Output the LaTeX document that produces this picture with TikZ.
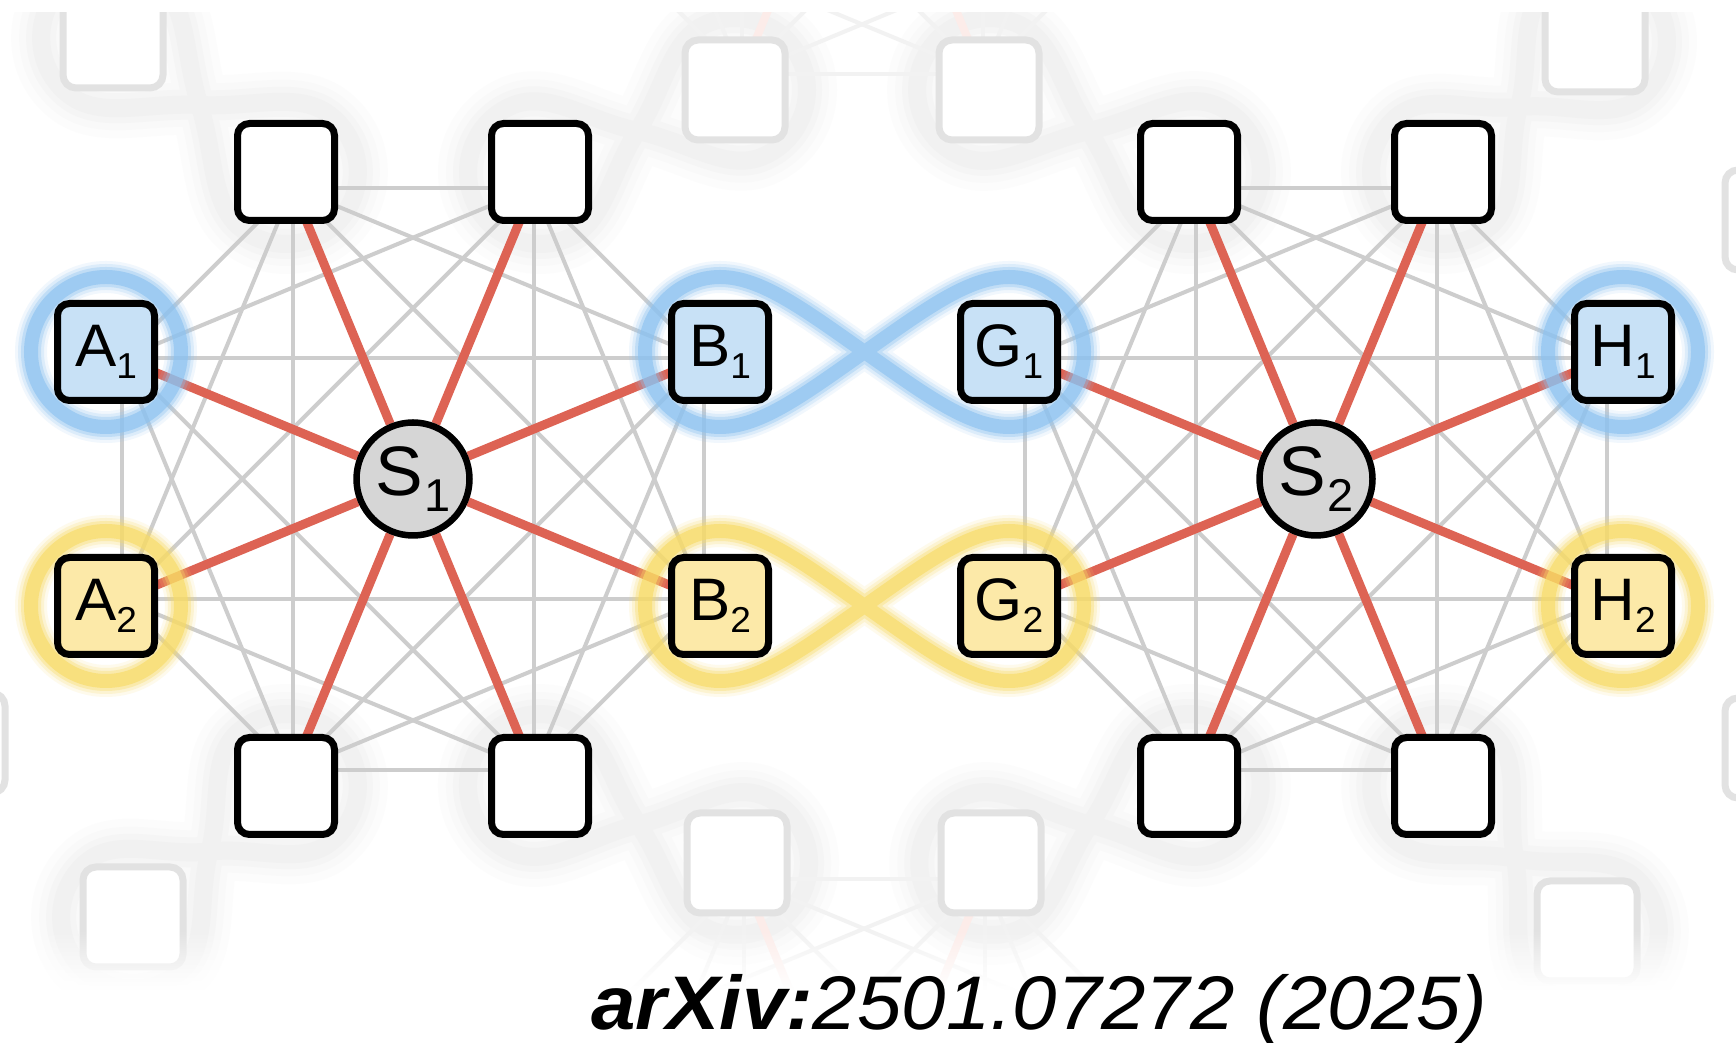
\documentclass[tikz,border=0pt]{standalone}
\usepackage{fontspec}
\setmainfont{Liberation Sans}
\usetikzlibrary{calc,fadings}

\definecolor{ringblue}{RGB}{140,194,240}
\definecolor{ringyellow}{RGB}{248,219,102}
\definecolor{fillblue}{RGB}{200,225,246}
\definecolor{fillyellow}{RGB}{252,233,168}
\definecolor{hubgray}{RGB}{214,214,214}
\definecolor{spokered}{RGB}{221,99,84}
\definecolor{linkgray}{RGB}{205,205,205}
\definecolor{ghostlink}{RGB}{242,242,242}
\definecolor{ghostspoke}{RGB}{252,236,233}
\definecolor{ghostframe}{RGB}{226,226,226}
\definecolor{hazegray}{RGB}{190,190,190}

\pgfdeclarelayer{ghosts}
\pgfdeclarelayer{links}
\pgfdeclarelayer{rings}
\pgfsetlayers{ghosts,links,rings,main}

\tikzfading[name=fadeup, top color=transparent!100, bottom color=transparent!0]

% site and hub labels: letter with a lowered index
\newcommand{\sitelabel}[2]{\scalebox{1.03}[1]{\fontsize{60}{60}\selectfont #1\raisebox{-12pt}{\fontsize{36}{36}\selectfont #2}}}
\newcommand{\hublabel}[1]{\scalebox{1.02}[1]{\fontsize{70}{70}\selectfont S\kern2pt\raisebox{-16pt}{\fontsize{46}{46}\selectfont #1}}}

% figure-eight loop round (-d,0) and (d,0), crossing at the origin; #1 = d, #2 = lobe radius
\newcommand{\eightloop}[2]{%
 (0,0) .. controls +(145:{0.5*#1}) and +(0:{0.55*#2}) .. (-#1,#2)
 .. controls +(180:{0.55*#2}) and +(90:{0.55*#2}) .. ({-#1-#2},0)
 .. controls +(-90:{0.55*#2}) and +(180:{0.55*#2}) .. (-#1,-#2)
 .. controls +(0:{0.55*#2}) and +(-145:{0.5*#1}) .. (0,0)
 .. controls +(35:{0.5*#1}) and +(180:{0.55*#2}) .. (#1,#2)
 .. controls +(0:{0.55*#2}) and +(90:{0.55*#2}) .. ({#1+#2},0)
 .. controls +(-90:{0.55*#2}) and +(0:{0.55*#2}) .. (#1,-#2)
 .. controls +(180:{0.55*#2}) and +(-35:{0.5*#1}) .. (0,0) -- cycle}

\tikzset{
  site/.style={rectangle, draw=black, line width=7pt, rounded corners=12pt,
    minimum width=97pt, minimum height=97pt, inner sep=0pt, fill=white},
  siteA/.style={site, fill=fillblue},
  siteB/.style={site, fill=fillyellow},
  hub/.style={circle, draw=black, line width=6.5pt, fill=hubgray,
    minimum size=113pt, inner sep=0pt},
  ghostsite/.style={rectangle, draw=ghostframe, line width=7pt, rounded corners=13pt,
    minimum width=100pt, minimum height=100pt, inner sep=0pt, fill=white},
  link/.style={draw=linkgray, line width=4pt},
  spoke/.style={draw=spokered, line width=9pt},
  ghostedge/.style={draw=ghostlink, line width=4pt},
  ghostray/.style={draw=ghostspoke, line width=8pt},
  softglow/.style={
    preaction={draw=#1, line width=32pt, draw opacity=.12},
    preaction={draw=#1, line width=26pt, draw opacity=.2},
    preaction={draw=#1, line width=20pt, draw opacity=.35},
    draw=#1, line width=14pt, draw opacity=.65},
  haze/.style={
    preaction={draw=hazegray, line width=60pt, draw opacity=.035},
    preaction={draw=hazegray, line width=44pt, draw opacity=.045},
    preaction={draw=hazegray, line width=30pt, draw opacity=.055},
    draw=hazegray, line width=18pt, draw opacity=.06},
}

\begin{document}
\begin{tikzpicture}[x=1pt,y=1pt]
\useasboundingbox (0,0) rectangle (1736,1043);

% ---------------- left cluster ----------------
\node[hub] (s1) at (413,564) {\hublabel{1}};
\node[siteA] (a1) at (106,691) {\sitelabel{A}{1}};
\node[siteB] (a2) at (106,437) {\sitelabel{A}{2}};
\node[siteA] (b1) at (720,691) {\sitelabel{B}{1}};
\node[siteB] (b2) at (720,437) {\sitelabel{B}{2}};
\node[site] (lt1) at (286,871) {};
\node[site] (lt2) at (540,871) {};
\node[site] (lb1) at (286,257) {};
\node[site] (lb2) at (540,257) {};

% ---------------- right cluster ----------------
\node[hub] (s2) at (1316,564) {\hublabel{2}};
\node[siteA] (g1) at (1009,691) {\sitelabel{G}{1}};
\node[siteB] (g2) at (1009,437) {\sitelabel{G}{2}};
\node[siteA] (h1) at (1623,691) {\sitelabel{H}{1}};
\node[siteB] (h2) at (1623,437) {\sitelabel{H}{2}};
\node[site] (rt1) at (1189,871) {};
\node[site] (rt2) at (1443,871) {};
\node[site] (rb1) at (1189,257) {};
\node[site] (rb2) at (1443,257) {};

% attachment points, pulled a little towards the hub
\foreach \u in {a1,a2,b1,b2,lt1,lt2,lb1,lb2}
  \coordinate (\u-p) at ($(\u)!17pt!(s1)$);
\foreach \u in {g1,g2,h1,h2,rt1,rt2,rb1,rb2}
  \coordinate (\u-p) at ($(\u)!17pt!(s2)$);

% ---------------- all-to-all links and hub spokes ----------------
\begin{pgfonlayer}{links}
  \foreach \u [count=\i] in {a1,lt1,lt2,b1,b2,lb2,lb1,a2}
    \foreach \v [count=\j] in {a1,lt1,lt2,b1,b2,lb2,lb1,a2}
      {\ifnum\i<\j \draw[link] (\u-p) -- (\v-p);\fi}
  \foreach \u [count=\i] in {g1,rt1,rt2,h1,h2,rb2,rb1,g2}
    \foreach \v [count=\j] in {g1,rt1,rt2,h1,h2,rb2,rb1,g2}
      {\ifnum\i<\j \draw[link] (\u-p) -- (\v-p);\fi}
  \foreach \u in {a1,a2,b1,b2,lt1,lt2,lb1,lb2}
    \draw[spoke] (s1) -- (\u-p);
  \foreach \u in {g1,g2,h1,h2,rt1,rt2,rb1,rb2}
    \draw[spoke] (s2) -- (\u-p);
\end{pgfonlayer}

% ---------------- entanglement rings ----------------
\begin{pgfonlayer}{rings}
  \path[softglow=ringblue]   (a1) circle [radius=75];
  \path[softglow=ringyellow] (a2) circle [radius=75];
  \path[softglow=ringblue]   (h1) circle [radius=75];
  \path[softglow=ringyellow] (h2) circle [radius=75];
  \path[softglow=ringblue,   shift={($(b1)!.5!(g1)$)}] \eightloop{144.5}{75};
  \path[softglow=ringyellow, shift={($(b2)!.5!(g2)$)}] \eightloop{144.5}{75};
\end{pgfonlayer}

% ---------------- faded neighbouring clusters ----------------
\begin{pgfonlayer}{ghosts}
  \fill[white] (0,0) rectangle (1736,1043);
  \begin{scope}
    \clip (0,0) rectangle (1736,1030);
    % soft grey pairings
    \path[haze, shift={(199.5,938)},  rotate=142.2] \eightloop{109.4}{72};
    \path[haze, shift={(637.5,912)},  rotate=22.8]  \eightloop{105.8}{72};
    \path[haze, shift={(1089,912)},   rotate=-22.3] \eightloop{108}{72};
    \path[haze, shift={(1519,936)},   rotate=40.5]  \eightloop{100}{72};
    \path[haze, shift={(209.5,191.5)},rotate=40.6]  \eightloop{100.7}{72};
    \path[haze, shift={(638.5,218.5)},rotate=-21.3] \eightloop{105.8}{72};
    \path[haze, shift={(1090,218.5)}, rotate=21.3]  \eightloop{106}{72};
    \path[haze, shift={(1515,184.5)}, rotate=-45.2] \eightloop{102}{72};

    % cluster above
    \coordinate (gc1) at (862,1260);
    \coordinate (gu1) at (735,953);  \coordinate (gu2) at (989,953);
    \coordinate (gu3) at (1169,1133);\coordinate (gu4) at (1169,1387);
    \coordinate (gu5) at (989,1567); \coordinate (gu6) at (735,1567);
    \coordinate (gu7) at (555,1387); \coordinate (gu8) at (555,1133);
    % cluster below
    \coordinate (gc2) at (864,-127);
    \coordinate (gd1) at (737,180);  \coordinate (gd2) at (991,180);
    \coordinate (gd3) at (1171,0);   \coordinate (gd4) at (1171,-254);
    \coordinate (gd5) at (991,-434); \coordinate (gd6) at (737,-434);
    \coordinate (gd7) at (557,-254); \coordinate (gd8) at (557,0);
    \foreach \u in {gu1,gu2,gu3,gu4,gu5,gu6,gu7,gu8}
      \coordinate (\u-p) at ($(\u)!17pt!(gc1)$);
    \foreach \u in {gd1,gd2,gd3,gd4,gd5,gd6,gd7,gd8}
      \coordinate (\u-p) at ($(\u)!17pt!(gc2)$);
    \foreach \u [count=\i] in {gu1,gu2,gu3,gu4,gu5,gu6,gu7,gu8}
      \foreach \v [count=\j] in {gu1,gu2,gu3,gu4,gu5,gu6,gu7,gu8}
        {\ifnum\i<\j \draw[ghostedge] (\u-p) -- (\v-p);\fi}
    \foreach \u [count=\i] in {gd1,gd2,gd3,gd4,gd5,gd6,gd7,gd8}
      \foreach \v [count=\j] in {gd1,gd2,gd3,gd4,gd5,gd6,gd7,gd8}
        {\ifnum\i<\j \draw[ghostedge] (\u-p) -- (\v-p);\fi}
    \foreach \u in {gu1,gu2,gu3,gu8}
      \draw[ghostray] (gc1) -- (\u-p);
    \foreach \u in {gd1,gd2,gd3,gd8}
      \draw[ghostray] (gc2) -- (\u-p);

    % faded sites
    \node[ghostsite] (gbu1) at (gu1) {};
    \node[ghostsite] (gbu2) at (gu2) {};
    \node[ghostsite] (gbd1) at (gd1) {};
    \node[ghostsite] (gbd2) at (gd2) {};
    \node[ghostsite] (gtl) at (113,1005) {};
    \node[ghostsite] (gtr) at (1595,1001) {};
    \node[ghostsite] (gbl) at (133,126) {};
    \node[ghostsite] (gbr) at (1587,112) {};
    \node[ghostsite] (gl)  at (-45,300) {};
    \node[ghostsite] (gr1) at (1775,823) {};
    \node[ghostsite] (gr2) at (1775,295) {};
  \end{scope}
  % fade out towards the bottom edge
  \fill[white, path fading=fadeup] (0,53) rectangle (1736,113);
  \fill[white] (0,0) rectangle (1736,53);
\end{pgfonlayer}

% ---------------- reference ----------------
\node[anchor=base west, inner sep=0pt] (cite) at (591,13)
  {\scalebox{1.05}[1]{\fontsize{76}{76}\selectfont\textbf{\textit{arXiv:}}\textit{2501.07272 (2025)}}};
\end{tikzpicture}
\end{document}
